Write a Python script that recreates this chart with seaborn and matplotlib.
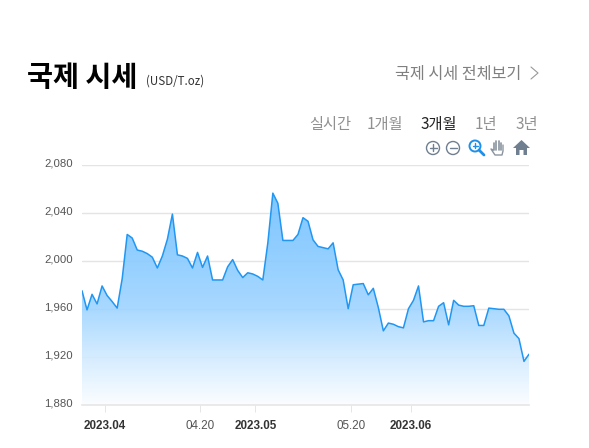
import numpy as np
import pandas as pd
import matplotlib
matplotlib.use("Agg")
import matplotlib.pyplot as plt
import matplotlib.dates as mdates
from matplotlib.patches import Circle, Polygon
from matplotlib.transforms import ScaledTranslation
import seaborn as sns

first_day = "2023-03-27 12:00"
prices = [1975, 1959, 1972, 1964, 1979, 1971, 1966, 1960.5, 1985, 2022,
          2019, 2009, 2008, 2006, 2003, 1994, 2004, 2018, 2039, 2005,
          2004, 2002, 1994, 2007, 1994.5, 2004, 1984, 1984, 1984, 1995,
          2001, 1992, 1986, 1990, 1989, 1987, 1984, 2015, 2056.5, 2048,
          2017, 2017, 2017, 2022, 2036, 2033,
          2017.5, 2012, 2011, 2010, 2015, 1992.5, 1984, 1960, 1980, 1980.5,
          1981, 1971.6, 1977, 1961, 1941.5, 1948, 1947, 1945, 1944, 1960,
          1967, 1979, 1949, 1950, 1950, 1962, 1965, 1946.5, 1967, 1963,
          1962, 1962, 1962.5, 1946, 1946, 1960.5, 1960, 1959.5, 1959.5, 1954,
          1939.6, 1935, 1916, 1922]
y_ticks = [1880, 1920, 1960, 2000, 2040, 2080]
x_ticks = ["2023-04-01", "2023-04-20", "2023-05-01", "2023-05-20", "2023-06-01"]
x_labels = ["2023.04", "04.20", "2023.05", "05.20", "2023.06"]
x_bold = [True, False, True, False, True]
ranges = ["실시간", "1개월", "3개월", "1년", "3년"]
range_x = [309, 367, 421, 475, 516]

W, H = 589, 448
df = pd.DataFrame({"date": pd.date_range(first_day, periods=len(prices), freq="D"), "price": prices})

sns.set_style("white")
plt.rcParams['font.family'] = ['Noto Sans CJK KR', 'DejaVu Sans']
fig = plt.figure(figsize=(W / 100, H / 100), dpi=100)
# axes placed in pixels: x 82-529, y 165-404.5
ax = fig.add_axes([82 / W, 1 - 404.5 / H, 447 / W, 239.5 / H])

sns.lineplot(data=df, x="date", y="price", ax=ax, color="#2196f3", linewidth=1.1, zorder=4)

x0 = mdates.date2num(df["date"].iloc[0])
x1 = mdates.date2num(df["date"].iloc[-1])

# gradient area: image clipped by the area under the line
poly = ax.fill_between(df["date"], df["price"], 1880, color="none")
top = max(prices)
levels = np.linspace(top, 1880, 256)
mix = np.interp(levels, [1880, 1920, 1960, 2000, top], [0.02, 0.22, 0.45, 0.55, 0.66])
base = np.array([40, 160, 255]) / 255
grad = np.ones((256, 1, 4))
grad[:, 0, :3] = 1 - mix[:, None] * (1 - base)
grad[..., 3] = 0.9
im = ax.imshow(grad, extent=[x0, x1, 1880, top], aspect="auto", zorder=3, origin="upper")
im.set_clip_path(poly.get_paths()[0], transform=ax.transData)
ax.set_xlim(x0, x1)
ax.set_ylim(1880, 2080)

for s in ax.spines.values():
    s.set_visible(False)
ax.spines["bottom"].set_visible(True)
ax.spines["bottom"].set_color("#e6e6e6")
ax.spines["bottom"].set_linewidth(1.2)
ax.spines["bottom"].set_zorder(5)
ax.yaxis.grid(True, color="#e4e4e4", linewidth=1.0, zorder=1)
ax.xaxis.grid(False)
ax.set_axisbelow(True)
ax.set_xlabel("")
ax.set_ylabel("")
ax.set_yticks(y_ticks)
ax.set_yticklabels([f"{v:,}" for v in y_ticks], family=["Liberation Sans"], fontsize=8.2, color="#555555")
ax.tick_params(axis="y", length=0, pad=6.5)
up = ScaledTranslation(0, 1.5 / 72, fig.dpi_scale_trans)
for lab in ax.get_yticklabels():
    lab.set_transform(lab.get_transform() + up)
ax.set_xticks(pd.to_datetime(x_ticks))
ax.set_xticklabels(x_labels, family=["Liberation Sans"], fontsize=8.4, color="#333333")
for lab, b in zip(ax.get_xticklabels(), x_bold):
    lab.set_fontweight("bold" if b else "normal")
    lab.set_color("#333333" if b else "#555555")
ax.tick_params(axis="x", length=5, width=0.7, color="#e6e6e6", pad=6.5, bottom=True)

# page furniture, drawn in pixel coordinates
ov = fig.add_axes([0, 0, 1, 1], facecolor="none")
ov.set_xlim(0, W)
ov.set_ylim(H, 0)
ov.axis("off")

ov.text(27, 78, "국제 시세", fontsize=20.4, fontweight="bold", color="#000000", va="center", ha="left")
ov.text(146, 81, "(USD/T.oz)", fontsize=8.3, color="#333333", va="center", ha="left")
ov.text(395, 74, "국제 시세 전체보기", fontsize=11.7, color="#808080", va="center", ha="left")
ov.plot([531, 538, 531], [67, 73, 79], color="#999999", lw=0.8)

for name, x in zip(ranges, range_x):
    ov.text(x, 125, name, fontsize=11, color="#222222" if name == "3개월" else "#909090", va="center", ha="left")

# toolbar icons
slate = "#6f7f8f"
for cx, sign in [(433, "+"), (453, "-")]:
    ov.add_patch(Circle((cx, 148), 6.5, fill=False, ec=slate, lw=1))
    ov.plot([cx - 3.5, cx + 3.5], [148, 148], color=slate, lw=1)
    if sign == "+":
        ov.plot([cx, cx], [144.5, 151.5], color=slate, lw=1)
blue = "#1e90e8"
ov.add_patch(Circle((475, 146), 5.5, fill=False, ec=blue, lw=1.4))
ov.plot([479, 484], [150, 155], color=blue, lw=2)
ov.plot([472.5, 477.5], [146, 146], color=blue, lw=1)
ov.plot([475, 475], [143.5, 148.5], color=blue, lw=1)
for hx, ht in zip([493.5, 496, 498.5, 501], [143, 141, 141.5, 143]):
    ov.plot([hx, hx], [ht, 150], color="#8a949e", lw=1.2)
ov.plot([493.5, 491, 495, 502, 503, 503], [150, 149, 155, 155, 151, 145], color="#8a949e", lw=1)
ov.add_patch(Polygon([[513, 148], [521.5, 140], [530, 148], [527, 148], [527, 155], [523.5, 155],
                      [523.5, 150], [519.5, 150], [519.5, 155], [516, 155], [516, 148]], fc=slate, ec="none"))

fig.savefig("out.png", dpi=100, facecolor="white")
